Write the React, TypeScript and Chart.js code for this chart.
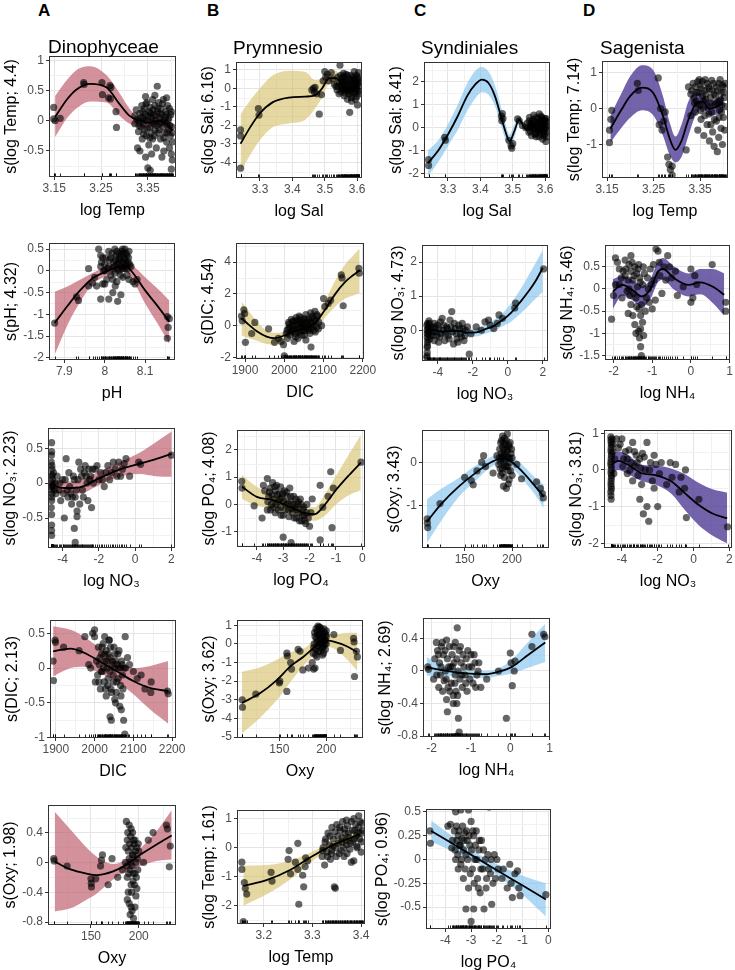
import { useEffect, useRef } from "react";
import { Chart, registerables } from "chart.js";

Chart.register(...registerables);

const FONT = "'Liberation Sans', Arial, 'DejaVu Sans', sans-serif";
Chart.defaults.font.family = FONT;

type Pt = [number, number];

// ---------------- Dinophyceae ----------------
const dinoTempPts: Pt[] = [
  [3.149, 0.22], [3.149, 0.03], [3.152, 0.0], [3.163, 0.04],
  [3.213, 0.63], [3.214, 0.6], [3.252, 0.63], [3.253, 0.43], [3.266, 0.38], [3.269, 0.58],
  [3.271, 0.55], [3.27, 0.36], [3.282, 0.15], [3.283, -0.11],
  [3.322, 0.08], [3.322, -0.05], [3.325, 0.18], [3.328, -0.45], [3.33, 0.0], [3.33, -0.18],
  [3.333, 0.12], [3.335, -0.1], [3.337, 0.25], [3.338, -0.3], [3.34, 0.05], [3.34, -0.05],
  [3.342, 0.2], [3.343, -0.15], [3.345, 0.1], [3.345, -0.6], [3.347, -0.25], [3.348, 0.3],
  [3.35, 0.0], [3.35, -0.78], [3.352, -0.4], [3.353, 0.15], [3.355, -0.1], [3.355, 0.22],
  [3.357, -0.2], [3.358, 0.05], [3.36, 0.35], [3.36, -0.3], [3.362, 0.1], [3.363, -0.05],
  [3.365, 0.25], [3.365, -0.15], [3.367, 0.0], [3.368, -0.45], [3.37, 0.57], [3.37, 0.15],
  [3.372, -0.2], [3.373, 0.3], [3.375, -0.05], [3.375, 0.05], [3.377, -0.3], [3.378, 0.2],
  [3.38, -0.6], [3.38, 0.1], [3.382, -0.1], [3.383, 0.35], [3.385, 0.0], [3.386, -0.2],
  [3.388, 0.15], [3.39, -0.05], [3.39, -0.35], [3.392, 0.25], [3.394, -0.15], [3.395, 0.05],
  [3.396, -0.45], [3.398, -0.25], [3.4, -0.55], [3.4, -0.8], [3.401, -0.1], [3.402, -0.65],
  [3.399, 0.1], [3.403, -0.35], [3.355, -0.82], [3.333, -0.5],
  [3.326, 0.02], [3.331, -0.08], [3.336, 0.05], [3.339, 0.15], [3.341, -0.22], [3.344, 0.0],
  [3.346, 0.28], [3.349, -0.12], [3.351, 0.08], [3.354, -0.28], [3.356, 0.12], [3.359, -0.02],
  [3.361, 0.18], [3.364, -0.25], [3.366, 0.08], [3.369, -0.08], [3.371, 0.2], [3.374, -0.15],
  [3.376, 0.12], [3.379, -0.02], [3.381, 0.28], [3.384, -0.28], [3.387, 0.05], [3.389, 0.1],
  [3.391, -0.2], [3.393, 0.0], [3.396, 0.2], [3.397, -0.08], [3.4, 0.15], [3.402, -0.2],
  [3.345, 0.4], [3.365, 0.42], [3.39, 0.38], [3.358, -0.55], [3.384, -0.5],
];
const dinoTempCx = [3.152, 3.178, 3.2, 3.227, 3.262, 3.29, 3.311, 3.332, 3.353, 3.374, 3.388, 3.403];
const dinoTempFit = [0.06, 0.36, 0.53, 0.61, 0.55, 0.27, 0.08, 0.0, -0.03, 0.0, -0.05, -0.16];
const dinoTempHi = [0.41, 0.68, 0.85, 0.9, 0.75, 0.45, 0.2, 0.06, 0.05, 0.07, 0.03, -0.06];
const dinoTempLo = [-0.27, 0.05, 0.22, 0.32, 0.3, 0.08, -0.05, -0.1, -0.11, -0.09, -0.13, -0.27];

const dinoPhPts: Pt[] = [
  [7.876, -1.2], [7.93, -0.6], [7.935, -0.68], [7.96, 0.05], [7.96, -0.35], [7.97, -0.28],
  [7.975, -0.15], [7.98, -0.35], [7.985, 0.5], [7.99, -0.65], [7.99, 0.1], [7.995, 0.3],
  [7.99, 0.35], [7.995, -0.3], [8.0, 0.15], [8.0, 0.0], [8.0, -0.3], [8.005, -0.2], [8.01, 0.45],
  [8.01, 0.1], [8.01, -0.65], [8.015, -0.1], [8.015, 0.3], [8.02, -0.5], [8.02, 0.05], [8.022, 0.2],
  [8.025, 0.5], [8.025, -0.05], [8.028, 0.35], [8.03, 0.15], [8.03, -0.25], [8.032, -0.7],
  [8.035, 0.4], [8.035, 0.0], [8.038, 0.25], [8.04, -0.55], [8.04, 0.1], [8.042, 0.45],
  [8.045, 0.2], [8.045, -0.15], [8.048, 0.3], [8.05, 0.5], [8.05, 0.05], [8.052, 0.15],
  [8.055, 0.35], [8.055, -0.1], [8.058, 0.2], [8.06, 0.45], [8.06, -0.2], [8.065, 0.1],
  [8.07, -0.25], [8.075, -0.3], [8.08, -0.2], [8.155, -1.05], [8.157, -1.3], [8.155, -1.55],
  [8.16, -1.1],
  [7.992, 0.2], [7.997, 0.0], [8.003, 0.3], [8.007, 0.05], [8.012, 0.25], [8.018, 0.4],
  [8.02, -0.2], [8.024, 0.1], [8.027, 0.25], [8.03, 0.45], [8.033, 0.05], [8.036, 0.3],
  [8.039, -0.1], [8.041, 0.35], [8.043, 0.05], [8.046, 0.4], [8.049, 0.1], [8.051, 0.25],
  [8.053, 0.4], [8.056, 0.05], [8.059, 0.3], [8.062, 0.15], [8.044, 0.5], [8.034, 0.2],
  [8.026, -0.35],
];
const dinoPhCx = [7.876, 7.91, 7.94, 7.97, 8.0, 8.03, 8.05, 8.07, 8.1, 8.13, 8.16];
const dinoPhFit = [-1.2, -0.78, -0.44, -0.17, -0.03, 0.08, 0.12, -0.05, -0.45, -0.8, -1.17];
const dinoPhHi = [-0.48, -0.35, -0.2, -0.05, 0.08, 0.22, 0.28, 0.12, -0.15, -0.4, -0.68];
const dinoPhLo = [-1.93, -1.2, -0.7, -0.3, -0.14, -0.05, -0.02, -0.22, -0.75, -1.2, -1.68];

const dinoNo3Pts: Pt[] = [
  [-4.6, 0.58], [-4.6, 0.45], [-4.62, 0.3], [-4.58, 0.2], [-4.6, 0.1], [-4.55, 0.05],
  [-4.6, -0.05], [-4.58, -0.15], [-4.6, -0.25], [-4.62, -0.35], [-4.6, -0.6], [-4.6, -0.68],
  [-4.6, -0.75], [-4.5, 0.15], [-4.45, -0.1], [-4.4, 0.0], [-4.2, -0.1], [-4.1, -0.25],
  [-4.0, 0.05], [-3.9, -0.5], [-3.8, 0.35], [-3.7, -0.2], [-3.6, -0.05], [-3.5, -0.3],
  [-3.4, 0.1], [-3.3, -0.2], [-3.2, -0.4], [-3.2, -0.48], [-3.3, -0.85], [-3.35, -0.65],
  [-3.1, 0.3], [-3.0, 0.2], [-2.9, -0.1], [-2.8, 0.15], [-2.7, 0.1], [-2.6, -0.25],
  [-2.5, 0.05], [-2.4, -0.35], [-2.3, 0.0], [-2.2, 0.2], [-2.0, 0.05], [-1.9, 0.15],
  [-1.7, -0.05], [-1.5, 0.25], [-1.3, 0.15], [-1.2, 0.3], [-1.0, 0.1], [-0.9, 0.3],
  [-0.7, 0.2], [-0.5, 0.35], [-0.3, 0.1], [0.2, 0.3], [0.3, 0.27], [2.0, 0.4],
  [-4.61, 0.4], [-4.59, 0.25], [-4.6, 0.0], [-4.61, -0.1], [-4.59, -0.2], [-4.6, -0.45],
  [-4.57, 0.12], [-4.55, -0.02], [-4.52, -0.05], [-4.35, -0.15], [-4.3, 0.1], [-4.15, 0.0],
  [-3.95, -0.15], [-3.85, 0.05], [-3.75, -0.1], [-3.65, 0.15], [-3.55, -0.15], [-3.45, -0.2],
  [-3.35, 0.05], [-3.25, -0.1], [-3.15, 0.05], [-3.05, -0.3], [-2.95, 0.1], [-2.85, -0.2],
  [-2.75, 0.25], [-2.65, 0.0], [-2.55, 0.2], [-2.45, 0.1], [-2.35, 0.2], [-2.1, 0.25],
  [-1.8, 0.05], [-1.6, 0.15], [-1.4, 0.05], [-1.1, 0.2], [-0.8, 0.1], [-0.6, 0.28],
];
const dinoNo3Cx = [-4.61, -4.2, -3.78, -3.05, -2.13, -1.02, 0.27, 1.1, 2.02];
const dinoNo3Fit = [-0.02, -0.06, -0.07, -0.06, 0.05, 0.18, 0.28, 0.34, 0.42];
const dinoNo3Hi = [0.07, 0.03, 0.02, 0.04, 0.15, 0.28, 0.44, 0.58, 0.74];
const dinoNo3Lo = [-0.12, -0.14, -0.15, -0.15, -0.05, 0.08, 0.13, 0.1, 0.09];

const dinoDicPts: Pt[] = [
  [1893, 0.1], [1894, -0.18], [1898, 0.4], [1899, 0.37], [1920, 0.3], [1960, 0.25],
  [1975, 0.45], [1985, 0.05], [1990, 0.0], [1995, 0.5], [2000, 0.55], [2000, 0.45],
  [2002, -0.2], [2005, 0.1], [2008, -0.1], [2010, 0.3], [2012, 0.05], [2015, -0.3],
  [2018, 0.2], [2020, -0.05], [2022, 0.35], [2025, -0.2], [2027, 0.1], [2030, -0.4],
  [2030, 0.25], [2033, 0.0], [2035, -0.15], [2037, 0.4], [2040, -0.7], [2040, 0.15],
  [2042, -0.3], [2043, -0.75], [2045, 0.05], [2048, -0.1], [2050, 0.3], [2052, -0.45],
  [2055, 0.1], [2057, -0.2], [2060, 0.2], [2062, 0.0], [2065, -0.55], [2067, -0.25],
  [2070, 0.1], [2072, -0.1], [2075, -0.75], [2078, -0.95], [2079, 0.45], [2080, 0.0],
  [2085, 0.15], [2090, 0.05], [2100, -0.05], [2110, -0.15], [2120, -0.1], [2130, -0.3],
  [2145, -0.35], [2146, -0.2], [2188, -0.33], [2190, -0.37],
  [2011, -0.2], [2014, 0.15], [2017, -0.05], [2019, 0.3], [2023, 0.0], [2026, 0.2],
  [2028, -0.3], [2031, 0.1], [2034, -0.25], [2036, 0.2], [2039, -0.05], [2041, 0.3],
  [2044, -0.35], [2046, 0.1], [2049, -0.2], [2051, 0.0], [2053, 0.2], [2056, -0.35],
  [2058, 0.05], [2061, -0.15], [2063, 0.25], [2066, 0.0], [2068, -0.4], [2071, 0.05],
  [2073, -0.3], [2076, 0.0], [2038, 0.4], [2026, 0.45], [2054, -0.5], [2069, -0.6],
];
const dinoDicCx = [1893, 1938, 1973, 2015, 2058, 2101, 2144, 2190];
const dinoDicFit = [0.24, 0.28, 0.22, 0.09, -0.05, -0.19, -0.29, -0.33];
const dinoDicHi = [0.6, 0.55, 0.45, 0.28, 0.1, 0.0, 0.03, 0.1];
const dinoDicLo = [-0.12, 0.0, 0.02, -0.08, -0.2, -0.38, -0.6, -0.8];

const dinoOxyPts: Pt[] = [
  [111, 0.05], [111.5, 0.02], [125, -0.05], [150, -0.22], [150.3, -0.28], [150.5, -0.33],
  [155, -0.22], [160, -0.05], [161, 0.03], [162, 0.1], [168, -0.3], [172, 0.05], [178, -0.2],
  [183, -0.1], [186, 0.0], [187, 0.55], [188, 0.3], [188, -0.2], [189, 0.15], [189, -0.4],
  [190, 0.5], [190, 0.05], [191, -0.1], [191, -0.7], [191.5, 0.35], [192, -0.3], [192, -0.6],
  [192.5, 0.2], [193, -0.05], [193, -0.65], [193.5, 0.4], [194, 0.1], [194, -0.25],
  [194.5, -0.75], [195, 0.25], [195, -0.85], [196, -0.15], [196, 0.3], [197, 0.0],
  [197, -0.45], [198, 0.2], [199, -0.1], [200, 0.15], [205, 0.0], [210, 0.3], [215, 0.4],
  [229, 0.5], [230, 0.45], [233, 0.22], [232, -0.06],
  [186.5, 0.2], [187.5, -0.05], [188.5, 0.4], [189.5, -0.15], [190.5, 0.25], [191.5, 0.0],
  [192.5, -0.4], [193.5, 0.1], [194.5, 0.3], [195.5, -0.3], [196.5, 0.15], [197.5, -0.2],
  [198.5, 0.05], [199.5, 0.25], [188, -0.5], [190, -0.55], [196, -0.6], [192, 0.45],
  [194, -0.15], [198, -0.35],
];
const dinoOxyCx = [112, 127.8, 145.3, 155.8, 173.2, 187.3, 201.2, 218.7, 234.5];
const dinoOxyFit = [0.01, -0.09, -0.15, -0.17, -0.12, -0.03, 0.1, 0.24, 0.36];
const dinoOxyHi = [0.68, 0.45, 0.2, 0.08, -0.02, 0.04, 0.18, 0.42, 0.7];
const dinoOxyLo = [-0.66, -0.62, -0.5, -0.42, -0.23, -0.12, -0.05, 0.02, 0.04];

// ---------------- Prymnesio ----------------
const prymSalPts: Pt[] = [
  [3.24, -2.25], [3.24, -2.58], [3.24, -4.32], [3.295, -1.1], [3.297, -1.45], [3.46, -0.1],
  [3.465, 0.0], [3.468, -0.2], [3.47, 0.05], [3.475, -0.3], [3.483, -1.4], [3.49, -0.35],
  [3.495, 0.4], [3.5, 0.9], [3.503, 0.6], [3.508, 0.75], [3.512, 0.4], [3.52, 0.85],
  [3.525, 0.5], [3.53, 0.2], [3.535, 0.1], [3.538, -0.1], [3.54, 0.6], [3.545, 0.3],
  [3.547, 1.25], [3.55, -0.2], [3.552, 0.5], [3.555, 0.0], [3.558, 0.8], [3.56, -0.4],
  [3.562, 0.2], [3.565, 0.4], [3.567, -0.1], [3.57, 0.7], [3.572, 0.1], [3.575, -0.3],
  [3.577, -1.3], [3.578, 0.3], [3.58, 0.5], [3.582, -0.5], [3.584, 0.0], [3.586, 0.6],
  [3.588, 0.2], [3.59, -0.2], [3.591, 0.9], [3.593, 0.4], [3.595, -0.6], [3.596, 0.1],
  [3.598, 0.7], [3.6, -0.1], [3.601, -0.9], [3.602, 0.3], [3.603, 0.5], [3.604, 0.85],
  [3.605, -0.3], [3.583, -0.7], [3.57, -0.6], [3.56, 0.65], [3.553, 0.35], [3.597, 0.0],
  [3.541, 0.1], [3.544, -0.3], [3.549, 0.7], [3.551, 0.15], [3.554, -0.1], [3.557, 0.55],
  [3.559, 0.0], [3.561, 0.35], [3.564, -0.25], [3.566, 0.75], [3.569, 0.25], [3.571, -0.15],
  [3.574, 0.45], [3.576, 0.0], [3.579, 0.15], [3.581, 0.7], [3.585, -0.35], [3.587, 0.4],
  [3.589, 0.0], [3.592, 0.55], [3.594, -0.25], [3.597, 0.3], [3.599, -0.45], [3.601, 0.6],
  [3.603, 0.1], [3.605, 0.4], [3.606, -0.15], [3.59, 0.25], [3.58, -0.1], [3.6, 0.2],
];
const prymSalCx = [3.24, 3.27, 3.3, 3.34, 3.39, 3.44, 3.47, 3.49, 3.515, 3.535, 3.555, 3.575, 3.59, 3.605];
const prymSalFit = [-3.0, -2.1, -1.35, -0.75, -0.5, -0.45, -0.38, -0.05, 0.55, 0.55, 0.1, -0.2, -0.05, 0.25];
const prymSalHi = [-1.4, -0.65, 0.0, 0.7, 0.95, 0.88, 0.45, 0.5, 0.85, 0.95, 0.35, 0.1, 0.2, 0.75];
const prymSalLo = [-4.5, -3.6, -2.8, -2.1, -1.9, -1.7, -1.1, -0.55, 0.25, 0.2, -0.2, -0.5, -0.3, -0.25];

const prymDicPts: Pt[] = [
  [1891, 0.6], [1893, 0.3], [1897, 1.0], [1899, 0.75], [1901, -1.05], [1917, -0.5],
  [1925, 0.2], [1960, -0.2], [1975, -1.05], [1985, -0.8], [1992, -1.0], [1998, -1.2],
  [2000, -1.9], [2003, -2.05], [2005, -0.5], [2008, -0.8], [2010, -0.2], [2012, 0.1],
  [2015, -0.6], [2018, 0.4], [2020, -0.3], [2022, 0.0], [2025, -1.0], [2025, 0.3],
  [2028, -0.5], [2030, 0.5], [2032, -0.2], [2035, 0.1], [2035, -0.8], [2038, 0.6],
  [2040, -0.4], [2042, 0.2], [2045, -0.1], [2045, -0.6], [2048, 0.4], [2050, 0.0],
  [2052, -0.3], [2055, 0.7], [2055, -0.9], [2058, 0.2], [2060, -0.2], [2062, 0.4],
  [2065, -0.5], [2067, 0.8], [2068, -1.35], [2070, 0.1], [2072, 0.5], [2075, -0.3],
  [2078, 0.9], [2080, 0.3], [2082, -0.1], [2085, 0.6], [2088, 0.2], [2095, 0.0],
  [2100, 1.7], [2103, 1.2], [2112, 1.4], [2118, 1.6], [2145, 3.2], [2147, 3.0],
  [2150, 1.25], [2190, 3.6], [2191, 3.3],
  [2007, -0.3], [2011, 0.2], [2014, -0.1], [2017, -0.4], [2021, 0.25], [2024, -0.2],
  [2027, 0.0], [2029, -0.7], [2031, 0.3], [2034, -0.4], [2037, 0.35], [2039, -0.1],
  [2041, 0.5], [2044, 0.1], [2046, -0.3], [2049, 0.2], [2051, -0.6], [2053, 0.45],
  [2056, -0.15], [2059, 0.3], [2061, 0.0], [2063, -0.3], [2066, 0.2], [2069, -0.2],
  [2071, 0.6], [2074, 0.0], [2076, 0.4], [2079, -0.4], [2083, 0.7], [2087, -0.2],
];
const prymDicCx = [1891, 1910, 1930, 1955, 1976, 2000, 2030, 2055, 2080, 2105, 2130, 2155, 2175, 2192];
const prymDicFit = [0.46, 0.05, -0.35, -0.69, -0.79, -0.62, -0.3, -0.17, 0.2, 1.05, 2.0, 2.75, 3.17, 3.48];
const prymDicHi = [1.5, 0.9, 0.25, -0.3, -0.45, -0.38, -0.05, 0.1, 0.5, 1.6, 2.85, 3.85, 4.4, 4.85];
const prymDicLo = [-0.6, -0.8, -0.95, -1.15, -1.2, -0.9, -0.55, -0.45, -0.12, 0.55, 1.2, 1.7, 1.9, 2.05];

const prymPo4Pts: Pt[] = [
  [-4.57, 0.85], [-4.56, 0.6], [-4.1, -0.05], [-3.8, -0.5], [-3.75, 0.7], [-3.7, 0.5],
  [-3.6, 0.95], [-3.6, -0.2], [-3.55, 0.3], [-3.5, 0.6], [-3.45, 0.0], [-3.4, 0.8],
  [-3.35, 0.2], [-3.3, 0.5], [-3.3, -0.3], [-3.25, 0.7], [-3.2, 0.1], [-3.15, 0.4],
  [-3.1, -0.1], [-3.1, 0.65], [-3.05, 0.25], [-3.0, -1.2], [-3.0, -0.4], [-2.95, 0.5],
  [-2.9, 0.0], [-2.85, 0.3], [-2.8, -0.2], [-2.75, 0.6], [-2.7, -1.4], [-2.7, 0.1],
  [-2.65, -0.3], [-2.6, 0.3], [-2.55, -0.1], [-2.5, -0.5], [-2.45, 0.0], [-2.4, -0.3],
  [-2.35, 0.2], [-2.3, -0.6], [-2.25, -0.2], [-2.2, -0.4], [-2.15, -0.7], [-2.1, 0.0],
  [-2.05, -0.5], [-2.0, -0.8], [-1.95, -0.3], [-1.9, 0.2], [-1.6, -1.3], [-1.6, 0.7],
  [-1.5, -0.1], [-1.3, 0.3], [-1.2, 1.2], [-1.15, -0.85], [-1.1, 0.6], [-0.05, 1.55],
  [-3.58, 0.1], [-3.52, 0.45], [-3.48, -0.2], [-3.42, 0.35], [-3.38, -0.1], [-3.32, 0.65],
  [-3.28, 0.0], [-3.22, 0.35], [-3.18, -0.2], [-3.12, 0.2], [-3.08, -0.4], [-3.02, 0.4],
  [-2.98, 0.1], [-2.92, -0.2], [-2.88, 0.45], [-2.82, 0.05], [-2.78, -0.45], [-2.72, 0.3],
  [-2.68, -0.15], [-2.62, 0.0], [-2.58, -0.5], [-2.52, 0.2], [-2.48, -0.2], [-2.42, 0.1],
  [-2.38, -0.6], [-2.32, 0.0], [-2.28, -0.4], [-2.22, -0.1], [-2.18, -0.6], [-2.12, -0.3],
];
const prymPo4Cx = [-4.56, -4.0, -3.38, -2.75, -2.13, -1.81, -1.44, -1.0, -0.5, -0.06];
const prymPo4Fit = [0.65, 0.28, 0.16, -0.09, -0.33, -0.36, -0.03, 0.53, 1.08, 1.53];
const prymPo4Hi = [1.08, 0.65, 0.4, 0.16, -0.08, -0.1, 0.35, 1.05, 1.85, 2.55];
const prymPo4Lo = [0.2, -0.05, -0.15, -0.32, -0.55, -0.6, -0.42, 0.0, 0.35, 0.53];

const prymOxyPts: Pt[] = [
  [110.5, -3.0], [110.8, -3.4], [125, -2.7], [150, -2.1], [150.5, -2.0], [158, -0.5],
  [158.5, -0.65], [158, -2.55], [162, -1.0], [163, -1.35], [170, -0.3], [172, -0.4],
  [175, -1.4], [181, -1.3], [185, -1.0], [186, -0.5], [186.5, -1.35], [188, -1.3],
  [187, 0.0], [188, 0.4], [189, -0.3], [189, 0.8], [190, 0.1], [190, -0.7], [191, 0.5],
  [191, -0.1], [192, 0.9], [192, 0.2], [193, -0.4], [193, 0.6], [194, 0.0], [194, 0.3],
  [195, -0.2], [195, 0.7], [196, 0.1], [196, -0.6], [197, 0.4], [197, -0.1], [198, 0.2],
  [198, 0.6], [199, -0.3], [200, 0.0], [200, 0.4], [208, 0.5], [215, -0.35], [229, 0.3],
  [229.5, 0.1], [230, -1.75], [232, -0.4], [233, -0.7],
  [186.5, -0.2], [187.5, 0.6], [188.5, -0.6], [189.5, 0.3], [190.5, 0.7], [191.5, -0.4],
  [192.5, 0.5], [193.5, 0.0], [194.5, 0.8], [195.5, 0.4], [196.5, -0.2], [197.5, 0.8],
  [198.5, 0.0], [199.5, 0.5], [191, 0.95], [193, 0.9], [195, 0.1], [197, -0.5], [199, 0.2],
  [200, 0.7],
];
const prymOxyCx = [110.3, 129.8, 147.6, 161.8, 176, 190.3, 197.3, 208, 222.3, 233];
const prymOxyFit = [-3.17, -2.64, -1.93, -1.21, -0.68, -0.05, 0.21, 0.12, -0.14, -0.45];
const prymOxyHi = [-1.5, -1.25, -0.85, -0.45, -0.25, 0.32, 0.55, 0.5, 0.6, 0.6];
const prymOxyLo = [-4.8, -3.95, -3.0, -2.05, -1.15, -0.45, -0.15, -0.25, -0.85, -1.45];

const prymTempPts: Pt[] = [
  [3.155, -0.5], [3.155, -0.75], [3.158, -2.55], [3.16, -1.2], [3.162, -1.4], [3.165, -1.6],
  [3.215, -0.85], [3.217, -1.15], [3.25, -0.4], [3.252, -0.1], [3.255, -0.9], [3.265, -0.5],
  [3.27, 0.15], [3.27, -0.75], [3.272, -1.95], [3.28, -0.95], [3.282, -1.35], [3.285, -0.65],
  [3.286, -0.35], [3.29, -0.45], [3.32, -0.3], [3.322, 0.0], [3.325, -0.6], [3.327, 0.3],
  [3.33, -0.15], [3.332, 0.5], [3.335, 0.1], [3.337, -0.4], [3.34, 0.7], [3.34, -0.1],
  [3.343, 0.3], [3.345, -1.35], [3.347, -1.4], [3.348, 0.0], [3.35, 0.8], [3.352, 0.4],
  [3.355, -0.2], [3.357, 0.6], [3.36, 0.2], [3.362, 0.9], [3.365, -0.3], [3.367, 0.5],
  [3.37, 0.1], [3.372, 0.75], [3.375, 0.35], [3.377, -0.05], [3.38, 0.9], [3.38, -0.5],
  [3.383, 0.2], [3.385, -0.45], [3.387, 0.6], [3.39, 0.4], [3.392, 0.0], [3.395, 1.1],
  [3.395, 0.7], [3.397, 0.3], [3.4, 0.5], [3.4, -0.15], [3.402, 0.85],
  [3.321, -0.1], [3.326, 0.2], [3.331, -0.3], [3.336, 0.4], [3.339, -0.2], [3.342, 0.05],
  [3.346, 0.55], [3.349, -0.3], [3.353, 0.15], [3.356, 0.7], [3.359, -0.1], [3.361, 0.35],
  [3.364, 0.0], [3.366, 0.65], [3.369, 0.25], [3.371, -0.2], [3.374, 0.5], [3.378, 0.15],
  [3.382, 0.6], [3.386, 0.3], [3.389, 0.8], [3.391, 0.05], [3.394, 0.5], [3.398, 0.9],
  [3.401, 0.2], [3.403, 0.6], [3.385, 1.0], [3.37, 0.95],
];
const prymTempCx = [3.158, 3.207, 3.254, 3.298, 3.342, 3.376, 3.397];
const prymTempFit = [-1.32, -1.11, -0.77, -0.31, 0.09, 0.32, 0.47];
const prymTempHi = [-0.62, -0.6, -0.45, -0.15, 0.22, 0.52, 0.72];
const prymTempLo = [-2.0, -1.6, -1.1, -0.48, -0.03, 0.15, 0.25];

// ---------------- Syndiniales ----------------
const syndSalPts: Pt[] = [
  [3.24, -1.4], [3.24, -1.65], [3.29, -0.42], [3.292, -0.55], [3.465, 0.5], [3.466, 0.3],
  [3.468, 0.62], [3.47, 0.4], [3.488, -0.55], [3.495, -0.8], [3.497, -0.9], [3.5, -0.7],
  [3.515, 0.38], [3.52, 0.3], [3.53, 0.1], [3.54, 0.0], [3.545, 0.2], [3.55, -0.2],
  [3.552, 0.45], [3.555, 0.1], [3.558, -0.35], [3.56, 0.3], [3.563, 0.0], [3.565, 0.55],
  [3.568, -0.1], [3.57, 0.25], [3.572, -0.4], [3.575, 0.1], [3.578, 0.4], [3.58, -0.2],
  [3.582, 0.6], [3.584, 0.0], [3.586, 0.3], [3.588, -0.3], [3.59, 0.15], [3.592, -0.5],
  [3.594, 0.35], [3.596, -0.1], [3.598, 0.2], [3.6, -0.25], [3.601, 0.05], [3.602, -0.6],
  [3.603, 0.4], [3.605, -0.15], [3.58, 0.2], [3.59, 0.45], [3.57, -0.25], [3.56, 0.15],
  [3.595, 0.0], [3.6, 0.3],
  [3.548, 0.0], [3.551, 0.3], [3.554, -0.15], [3.557, 0.2], [3.561, -0.05], [3.564, 0.35],
  [3.567, 0.1], [3.569, -0.3], [3.573, 0.45], [3.576, -0.05], [3.579, 0.25], [3.581, -0.4],
  [3.583, 0.1], [3.585, -0.15], [3.587, 0.5], [3.589, 0.0], [3.591, 0.3], [3.593, -0.2],
  [3.595, 0.15], [3.597, -0.35], [3.599, 0.4], [3.601, -0.05], [3.603, 0.1], [3.604, -0.4],
  [3.606, 0.25],
];
const syndSalCx = [3.238, 3.27, 3.3, 3.33, 3.36, 3.385, 3.405, 3.425, 3.445, 3.465, 3.48, 3.49, 3.505, 3.52, 3.54, 3.56, 3.58, 3.6];
const syndSalFit = [-1.55, -1.0, -0.3, 0.5, 1.4, 1.9, 2.1, 1.95, 1.38, 0.42, -0.28, -0.6, -0.15, 0.35, -0.05, 0.15, -0.15, 0.05];
const syndSalHi = [-1.0, -0.55, 0.15, 1.0, 1.95, 2.5, 2.65, 2.45, 1.85, 0.85, 0.05, -0.3, 0.15, 0.5, 0.05, 0.27, -0.03, 0.2];
const syndSalLo = [-2.12, -1.5, -0.8, -0.1, 0.75, 1.3, 1.55, 1.45, 0.95, 0.05, -0.65, -0.9, -0.45, 0.2, -0.15, 0.03, -0.28, -0.1];

const syndNo3Pts: Pt[] = [
  [-4.62, -0.8], [-4.6, -0.65], [-4.6, -0.5], [-4.58, -0.35], [-4.6, -0.2], [-4.55, -0.1],
  [-4.6, 0.0], [-4.52, 0.1], [-4.58, 0.2], [-4.5, 0.28], [-4.45, -0.25], [-4.4, 0.05],
  [-4.3, -0.15], [-4.2, 0.2], [-4.2, -0.3], [-4.1, -0.05], [-4.0, 0.15], [-3.95, -0.35],
  [-3.9, -0.2], [-3.85, 0.25], [-3.75, 0.35], [-3.7, 0.0], [-3.6, -0.3], [-3.5, 0.1],
  [-3.4, -0.15], [-3.3, 0.3], [-3.2, 0.55], [-3.1, -0.4], [-3.0, 0.05], [-2.9, -0.25],
  [-2.8, 0.15], [-2.7, -0.1], [-2.6, 0.2], [-2.5, -0.3], [-2.4, 0.0], [-2.3, 0.1],
  [-2.2, -0.7], [-2.1, -0.1], [-1.8, 0.1], [-1.5, 0.0], [-1.3, 0.25], [-1.1, 0.3],
  [-1.0, 0.15], [-0.8, 0.05], [-0.6, 0.2], [-0.5, 0.45], [-0.3, 0.35], [0.4, 0.65],
  [0.45, 0.8], [2.05, 1.8],
  [-4.61, -0.75], [-4.59, -0.45], [-4.57, -0.28], [-4.6, -0.1], [-4.56, 0.05], [-4.62, 0.15],
  [-4.54, -0.05], [-4.48, 0.2], [-4.42, -0.15], [-4.35, 0.1], [-4.25, -0.05], [-4.15, 0.1],
  [-4.05, -0.15], [-3.95, 0.05], [-3.8, -0.1], [-3.65, 0.15], [-3.55, -0.1], [-3.45, 0.05],
  [-3.35, -0.25], [-3.25, 0.1], [-3.15, -0.05], [-3.05, 0.2], [-2.95, -0.1], [-2.85, -0.35],
  [-2.75, 0.05], [-2.65, -0.2], [-2.55, 0.05], [-2.45, -0.15],
];
const syndNo3Cx = [-4.62, -4.2, -3.8, -3.3, -2.8, -2.3, -1.8, -1.3, -0.8, -0.3, 0.2, 0.7, 1.2, 1.6, 2.0];
const syndNo3Fit = [-0.05, 0.0, -0.04, -0.02, -0.02, -0.07, -0.06, 0.03, 0.13, 0.3, 0.52, 0.82, 1.15, 1.45, 1.83];
const syndNo3Hi = [0.1, 0.12, 0.08, 0.1, 0.09, 0.04, 0.06, 0.17, 0.3, 0.5, 0.8, 1.18, 1.62, 1.98, 2.35];
const syndNo3Lo = [-0.2, -0.12, -0.16, -0.14, -0.13, -0.18, -0.18, -0.1, -0.02, 0.12, 0.26, 0.48, 0.72, 0.93, 1.13];

const syndOxyPts: Pt[] = [
  [110.5, -1.3], [110.7, -1.4], [111, -1.5], [124, -0.95], [150, -0.35], [157, -0.42],
  [159, -0.52], [163, -0.2], [168, 0.0], [170, 0.15], [172, -0.1], [180, -0.25], [184, 0.15],
  [186, -0.05], [187, 0.3], [188, -0.3], [188, 0.45], [189, 0.1], [189, 0.5], [190, -0.15],
  [190, 0.35], [191, 0.0], [191, -0.55], [191, 0.45], [192, 0.2], [192, -0.35], [193, 0.4],
  [193, 0.05], [194, -0.1], [194, -0.6], [195, 0.65], [195, 0.25], [196, -0.2], [196, 0.1],
  [197, 0.35], [197, -0.4], [198, 0.0], [199, 0.2], [200, -0.3], [200, 0.1], [205, -0.05],
  [210, -0.38], [226, -0.45], [230, -0.6], [232, -0.72], [233, -0.82],
  [186.5, 0.1], [187.5, -0.15], [188.5, 0.2], [189.5, -0.25], [190.5, 0.15], [191.5, 0.3],
  [192.5, -0.1], [193.5, 0.15], [194.5, 0.3], [195.5, -0.1], [196.5, 0.4], [197.5, 0.1],
  [198.5, -0.2], [199.5, 0.3], [190, 0.6], [192, 0.55], [194, 0.5], [196, -0.5], [188, 0.0],
  [198, 0.45],
];
const syndOxyCx = [110.3, 126.1, 143.7, 161.3, 178.9, 189.5, 200, 210.6, 224.7, 233.4];
const syndOxyFit = [-1.36, -0.94, -0.56, -0.25, 0.01, 0.09, 0.0, -0.21, -0.56, -0.79];
const syndOxyHi = [-0.85, -0.6, -0.36, -0.08, 0.13, 0.2, 0.13, -0.05, -0.36, -0.52];
const syndOxyLo = [-1.85, -1.32, -0.8, -0.43, -0.1, -0.02, -0.13, -0.38, -0.76, -1.05];

const syndNh4Pts: Pt[] = [
  [-2.1, 0.05], [-2.08, 0.02], [-1.95, -0.1], [-1.88, 0.35], [-1.85, 0.25], [-1.82, -0.2],
  [-1.8, 0.1], [-1.78, -0.05], [-1.75, 0.3], [-1.72, -0.25], [-1.7, 0.2], [-1.68, -0.12],
  [-1.65, 0.0], [-1.62, -0.35], [-1.6, 0.15], [-1.6, -0.5], [-1.58, -0.2], [-1.55, 0.3],
  [-1.52, 0.05], [-1.5, -0.15], [-1.48, 0.2], [-1.45, -0.3], [-1.43, 0.1], [-1.4, -0.05],
  [-1.4, 0.35], [-1.38, -0.25], [-1.35, 0.53], [-1.35, -0.8], [-1.33, 0.0], [-1.32, -0.58],
  [-1.3, -0.75], [-1.3, 0.25], [-1.28, -0.1], [-1.25, 0.1], [-1.22, -0.2], [-1.2, 0.2],
  [-1.15, -0.05], [-1.12, 0.15], [-1.1, -0.25], [-1.05, 0.05], [-1.0, 0.2], [-0.95, -0.15],
  [-0.9, 0.1], [-0.85, -0.05], [-0.8, 0.1], [-0.75, -0.2], [-0.6, -0.1], [-0.3, 0.0],
  [-0.1, -0.58], [0.0, 0.22], [0.02, 0.1], [0.05, -0.18], [0.1, 0.0], [0.12, 0.12],
  [0.55, 0.45], [0.55, 0.3], [0.85, 0.45], [0.88, 0.42],
  [-1.92, 0.15], [-1.87, -0.05], [-1.83, 0.2], [-1.76, 0.05], [-1.73, 0.35], [-1.66, 0.25],
  [-1.63, -0.1], [-1.57, 0.05], [-1.54, -0.25], [-1.47, 0.05], [-1.44, 0.3], [-1.41, -0.15],
  [-1.36, 0.15], [-1.34, -0.3], [-1.27, 0.3], [-1.23, -0.05], [-1.18, 0.05], [-1.13, -0.15],
  [-1.08, 0.25], [-1.03, -0.1], [-0.98, 0.05], [-0.92, 0.2], [-0.88, -0.2], [-0.82, 0.0],
  [-1.62, 0.38], [-1.45, -0.4], [-1.36, -0.4],
];
const syndNh4Cx = [-2.13, -1.74, -1.15, -0.64, -0.3, 0.04, 0.46, 0.89];
const syndNh4Fit = [0.05, 0.01, -0.03, -0.04, -0.01, 0.05, 0.2, 0.35];
const syndNh4Hi = [0.17, 0.07, 0.01, 0.0, 0.03, 0.14, 0.36, 0.58];
const syndNh4Lo = [-0.06, -0.06, -0.08, -0.09, -0.06, -0.03, 0.04, 0.11];

const syndPo4Pts: Pt[] = [
  [-4.6, 0.3], [-4.58, 0.17], [-3.9, 0.35], [-3.8, 0.37], [-3.75, 0.12], [-3.7, 0.55],
  [-3.65, 0.3], [-3.6, 0.5], [-3.6, 0.0], [-3.55, 0.2], [-3.5, -0.1], [-3.5, 0.25],
  [-3.45, 0.15], [-3.4, 0.52], [-3.4, -0.05], [-3.35, 0.22], [-3.3, 0.1], [-3.3, -0.2],
  [-3.25, 0.28], [-3.2, 0.05], [-3.2, -0.52], [-3.15, 0.2], [-3.1, -0.3], [-3.1, 0.52],
  [-3.05, 0.15], [-3.0, 0.4], [-3.0, -0.65], [-2.95, -0.1], [-2.9, 0.25], [-2.9, -0.52],
  [-2.85, 0.0], [-2.8, 0.3], [-2.75, -0.2], [-2.7, 0.1], [-2.65, -0.35], [-2.6, 0.2],
  [-2.55, -0.1], [-2.5, -0.52], [-2.45, 0.0], [-2.4, -0.2], [-2.35, 0.05], [-2.3, 0.55],
  [-2.25, -0.15], [-2.2, -0.47], [-2.15, -0.25], [-2.1, 0.05], [-2.0, 0.0], [-1.95, -0.1],
  [-1.8, -0.2], [-1.6, -0.3], [-1.5, -0.05], [-1.45, -0.25], [-1.4, -0.4], [-1.3, -0.15],
  [-1.2, -0.12], [-1.15, -0.3], [-1.1, -0.38], [-0.1, -0.37],
  [-3.72, 0.2], [-3.62, 0.1], [-3.57, 0.35], [-3.52, 0.05], [-3.47, 0.3], [-3.42, 0.15],
  [-3.37, 0.0], [-3.33, 0.35], [-3.28, 0.2], [-3.23, -0.1], [-3.18, 0.3], [-3.13, 0.0],
  [-3.08, 0.25], [-3.03, -0.15], [-2.98, 0.1], [-2.93, 0.3], [-2.88, -0.25], [-2.83, 0.15],
  [-2.78, 0.0], [-2.72, -0.3], [-2.68, 0.2], [-2.62, -0.1], [-2.52, 0.1], [-2.42, -0.3],
  [-2.32, -0.1], [-2.22, 0.0], [-2.05, -0.2], [-1.75, -0.1],
];
const syndPo4Cx = [-4.55, -3.5, -2.8, -2.0, -1.0, -0.1];
const syndPo4Fit = [0.3, 0.13, 0.017, -0.113, -0.274, -0.42];
const syndPo4Hi = [0.41, 0.2, 0.07, -0.05, -0.17, -0.25];
const syndPo4Lo = [0.19, 0.06, -0.03, -0.17, -0.37, -0.6];

// ---------------- Sagenista ----------------
const sageTempPts: Pt[] = [
  [3.155, -0.6], [3.155, -0.95], [3.158, -0.3], [3.16, -0.05], [3.215, 0.7], [3.217, 0.5],
  [3.26, 0.85], [3.265, 0.0], [3.262, -0.45], [3.268, -0.6], [3.275, -0.1], [3.272, -0.35],
  [3.28, -1.35], [3.283, -1.55], [3.286, -1.7], [3.29, -1.85], [3.29, -1.6], [3.32, -1.15],
  [3.325, 0.6], [3.33, 0.4], [3.33, -0.2], [3.335, 0.7], [3.337, 0.3], [3.34, 0.6],
  [3.34, -0.1], [3.342, 0.2], [3.345, 0.75], [3.345, -0.6], [3.347, 0.45], [3.35, 0.1],
  [3.35, 0.65], [3.352, -0.3], [3.355, 0.35], [3.355, 0.75], [3.357, 0.0], [3.36, 0.5],
  [3.36, -0.2], [3.362, 0.25], [3.365, 0.7], [3.365, -0.45], [3.367, 0.05], [3.37, 0.55],
  [3.37, -0.9], [3.372, 0.3], [3.375, -0.1], [3.375, 0.78], [3.377, -0.65], [3.38, 0.4],
  [3.38, -1.05], [3.382, 0.1], [3.385, 0.6], [3.385, -0.35], [3.387, -1.2], [3.39, 0.2],
  [3.39, 0.7], [3.392, -0.05], [3.395, 0.45], [3.395, -0.55], [3.397, 0.1], [3.4, 0.6],
  [3.4, -0.25], [3.402, 0.3], [3.403, -0.6], [3.405, 0.05],
  [3.332, 0.5], [3.338, 0.15], [3.343, 0.45], [3.348, 0.8], [3.351, -0.05], [3.353, 0.55],
  [3.358, 0.2], [3.361, 0.8], [3.363, 0.4], [3.368, 0.6], [3.369, -0.15], [3.373, 0.15],
  [3.376, 0.5], [3.379, 0.7], [3.381, -0.3], [3.383, 0.35], [3.386, 0.15], [3.388, 0.5],
  [3.391, -0.25], [3.393, 0.8], [3.394, 0.25], [3.396, -0.1], [3.398, 0.65], [3.401, 0.45],
  [3.404, 0.7], [3.358, -0.75], [3.373, -0.45], [3.39, -0.8], [3.398, -1.0], [3.345, 0.1],
];
const sageTempCx = [3.157, 3.18, 3.2, 3.225, 3.25, 3.27, 3.285, 3.297, 3.31, 3.325, 3.34, 3.355, 3.37, 3.385, 3.4];
const sageTempFit = [-0.56, -0.05, 0.35, 0.58, 0.42, -0.2, -0.85, -1.15, -0.9, -0.3, 0.12, 0.2, 0.0, 0.05, 0.15];
const sageTempHi = [-0.2, 0.4, 0.9, 1.2, 1.05, 0.35, -0.4, -0.78, -0.45, 0.2, 0.45, 0.42, 0.2, 0.27, 0.38];
const sageTempLo = [-0.95, -0.55, -0.25, -0.05, -0.2, -0.75, -1.3, -1.5, -1.35, -0.75, -0.2, 0.0, -0.2, -0.17, -0.08];

const sageNh4Pts: Pt[] = [
  [-2.05, -0.68], [-2.0, -0.15], [-1.95, 0.1], [-1.95, 0.7], [-1.9, 0.6], [-1.85, 0.45],
  [-1.8, 0.25], [-1.78, -0.2], [-1.7, 0.65], [-1.7, 0.3], [-1.65, -0.05], [-1.6, 0.55],
  [-1.6, 0.0], [-1.55, -0.35], [-1.55, 0.4], [-1.55, 0.75], [-1.5, 0.2], [-1.5, -0.6],
  [-1.48, -0.1], [-1.45, 0.5], [-1.45, -0.8], [-1.4, 0.35], [-1.4, -0.4], [-1.38, 0.05],
  [-1.35, -0.95], [-1.35, 0.55], [-1.33, -1.1], [-1.32, 0.25], [-1.3, -0.6], [-1.3, -1.3],
  [-1.28, -1.5], [-1.25, 0.1], [-1.25, -0.75], [-1.22, -1.05], [-1.2, 0.35], [-1.15, -0.2],
  [-1.1, 0.0], [-1.05, 0.45], [-1.0, -0.45], [-0.95, 0.2], [-0.9, 0.9], [-0.85, 0.85],
  [-0.8, 0.3], [-0.75, -0.1], [-0.7, 0.5], [-0.6, 0.75], [-0.5, 0.25], [-0.4, 0.4],
  [-0.35, -0.15], [-0.2, 0.05], [0.0, -0.3], [0.0, 0.45], [0.05, -0.2], [0.1, 0.3],
  [0.15, 0.1], [0.55, 0.55], [0.9, -0.3], [0.9, -0.5],
  [-1.68, 0.45], [-1.62, 0.2], [-1.58, -0.15], [-1.52, 0.6], [-1.47, 0.3], [-1.42, -0.2],
  [-1.37, 0.45], [-1.34, -0.45], [-1.31, 0.15], [-1.27, -0.35], [-1.23, 0.5], [-1.18, -0.5],
  [-1.12, 0.25], [-1.08, -0.3], [-1.02, 0.1], [-0.97, 0.55], [-0.92, -0.25], [-0.82, 0.6],
  [-0.65, 0.2], [-0.55, 0.5], [-1.85, 0.1], [-1.75, 0.4], [-1.62, -0.55], [-1.42, -1.0],
  [-1.3, -0.9],
];
const sageNh4Cx = [-2.02, -1.77, -1.52, -1.27, -1.06, -0.85, -0.72, -0.43, -0.06, 0.24, 0.57, 0.86];
const sageNh4Fit = [-0.06, 0.09, -0.02, -0.17, -0.02, 0.39, 0.45, 0.24, 0.09, 0.15, 0.05, -0.13];
const sageNh4Hi = [0.22, 0.3, 0.2, 0.07, 0.2, 0.62, 0.7, 0.5, 0.35, 0.45, 0.45, 0.35];
const sageNh4Lo = [-0.45, -0.15, -0.25, -0.4, -0.25, 0.15, 0.2, -0.02, -0.17, -0.12, -0.32, -0.6];

const sageNo3Pts: Pt[] = [
  [-4.62, 0.9], [-4.6, 0.75], [-4.6, 0.6], [-4.58, 0.45], [-4.6, 0.3], [-4.62, 0.15],
  [-4.6, 0.0], [-4.58, -0.15], [-4.6, -0.3], [-4.6, -0.45], [-4.62, -0.6], [-4.6, -0.8],
  [-4.55, 0.85], [-4.5, 0.5], [-4.45, -0.1], [-4.3, 0.85], [-4.2, 0.6], [-4.0, 0.85],
  [-3.9, 0.3], [-3.8, 0.5], [-3.7, -0.1], [-3.6, 0.55], [-3.5, 0.2], [-3.4, 0.75],
  [-3.4, -0.3], [-3.3, 0.1], [-3.2, 0.4], [-3.1, -0.15], [-3.0, 0.3], [-3.0, -0.8],
  [-2.9, -0.4], [-2.85, 0.45], [-2.8, -1.2], [-2.7, 0.0], [-2.6, 0.75], [-2.6, -1.0],
  [-2.5, -1.4], [-2.4, 0.2], [-2.3, -0.3], [-2.2, 0.4], [-2.2, -0.5], [-2.0, -1.0],
  [-1.9, -0.1], [-1.5, -0.4], [-1.3, 0.2], [-1.0, 0.15], [-0.8, -0.6], [-0.5, -0.5],
  [-0.45, 0.0], [-0.4, -1.3], [0.3, -0.8], [1.9, -1.55],
  [-4.61, 0.82], [-4.59, 0.68], [-4.61, 0.52], [-4.59, 0.38], [-4.61, 0.22], [-4.59, 0.08],
  [-4.61, -0.08], [-4.59, -0.22], [-4.61, -0.38], [-4.59, -0.52], [-4.61, -0.7], [-4.5, 0.7],
  [-4.4, 0.3], [-4.1, 0.7], [-3.95, 0.1], [-3.7, 0.3], [-3.55, 0.0], [-3.3, 0.5],
  [-3.15, 0.2], [-2.95, 0.05], [-2.75, 0.35], [-2.45, 0.0], [-2.1, 0.15], [-1.8, 0.2],
  [-1.2, -0.2], [-0.7, -0.2],
];
const sageNo3Cx = [-4.58, -4.21, -3.65, -2.9, -2.15, -1.21, -0.47, 0.28, 1.03, 1.88];
const sageNo3Fit = [0.14, 0.25, 0.14, -0.09, -0.14, -0.32, -0.64, -0.95, -1.18, -1.32];
const sageNo3Hi = [0.41, 0.5, 0.41, 0.14, 0.12, 0.03, -0.12, -0.35, -0.52, -0.62];
const sageNo3Lo = [-0.14, 0.0, -0.12, -0.3, -0.4, -0.66, -1.1, -1.5, -1.78, -2.0];

// ---------------- column headings ----------------
const columnLetters = ["A", "B", "C", "D"];
const taxa = ["Dinophyceae", "Prymnesio", "Syndiniales", "Sagenista"];

// ---------------- page layout ----------------
const PAD_L = 62;
const PAD_T = 12;
const PAD_R = 16;
const PAD_B = 50;
const letterLeft = [38, 207, 414, 583];
const taxonLeft = [48, 233, 421, 600];
const taxonTop = [36.5, 37.5, 37.5, 37.5];

const BAND = {
  dino: "rgba(190, 95, 108, 0.68)",
  prym: "rgba(212, 190, 100, 0.6)",
  synd: "rgba(120, 190, 235, 0.6)",
  sage: "rgba(80, 60, 150, 0.8)",
};

interface Panel {
  key: string;
  box: [number, number, number, number];
  xRange: [number, number];
  yRange: [number, number];
  xTicks: number[];
  yTicks: number[];
  xTitle: string;
  yTitle: string;
  band: string;
  pts: Pt[];
  cx: number[];
  fit: number[];
  hi: number[];
  lo: number[];
}

const panels: Panel[] = [
  { key: "A1", box: [49, 56, 127, 121], xRange: [3.139, 3.41], yRange: [-0.93, 1.07], xTicks: [3.15, 3.25, 3.35], yTicks: [-0.5, 0, 0.5, 1], xTitle: "log Temp", yTitle: "s(log Temp; 4.4)", band: BAND.dino, pts: dinoTempPts, cx: dinoTempCx, fit: dinoTempFit, hi: dinoTempHi, lo: dinoTempLo },
  { key: "B1", box: [236, 62, 126, 116], xRange: [3.226, 3.615], yRange: [-4.85, 1.42], xTicks: [3.3, 3.4, 3.5, 3.6], yTicks: [-4, -3, -2, -1, 0, 1], xTitle: "log Sal", yTitle: "s(log Sal; 6.16)", band: BAND.prym, pts: prymSalPts, cx: prymSalCx, fit: prymSalFit, hi: prymSalHi, lo: prymSalLo },
  { key: "C1", box: [424, 62, 126, 116], xRange: [3.226, 3.615], yRange: [-2.2, 2.87], xTicks: [3.3, 3.4, 3.5, 3.6], yTicks: [-2, -1, 0, 1, 2], xTitle: "log Sal", yTitle: "s(log Sal; 8.41)", band: BAND.synd, pts: syndSalPts, cx: syndSalCx, fit: syndSalFit, hi: syndSalHi, lo: syndSalLo },
  { key: "D1", box: [602, 61, 126, 117], xRange: [3.139, 3.41], yRange: [-1.93, 1.32], xTicks: [3.15, 3.25, 3.35], yTicks: [-1, 0, 1], xTitle: "log Temp", yTitle: "s(log Temp; 7.14)", band: BAND.sage, pts: sageTempPts, cx: sageTempCx, fit: sageTempFit, hi: sageTempHi, lo: sageTempLo },

  { key: "A2", box: [49, 243, 126, 117], xRange: [7.862, 8.174], yRange: [-2.05, 0.64], xTicks: [7.9, 8, 8.1], yTicks: [-2, -1.5, -1, -0.5, 0, 0.5], xTitle: "pH", yTitle: "s(pH; 4.32)", band: BAND.dino, pts: dinoPhPts, cx: dinoPhCx, fit: dinoPhFit, hi: dinoPhHi, lo: dinoPhLo },
  { key: "B2", box: [236, 243, 128, 116], xRange: [1877, 2203], yRange: [-2.1, 5.2], xTicks: [1900, 2000, 2100, 2200], yTicks: [-2, 0, 2, 4], xTitle: "DIC", yTitle: "s(DIC; 4.54)", band: BAND.prym, pts: prymDicPts, cx: prymDicCx, fit: prymDicFit, hi: prymDicHi, lo: prymDicLo },
  { key: "C2", box: [422, 245, 126, 116], xRange: [-4.9, 2.3], yRange: [-0.9, 2.5], xTicks: [-4, -2, 0, 2], yTicks: [0, 1, 2], xTitle: "log NO₃", yTitle: "s(log NO₃; 4.73)", band: BAND.synd, pts: syndNo3Pts, cx: syndNo3Cx, fit: syndNo3Fit, hi: syndNo3Hi, lo: syndNo3Lo },
  { key: "D2", box: [605, 245, 125, 115], xRange: [-2.22, 1.01], yRange: [-1.6, 0.99], xTicks: [-2, -1, 0, 1], yTicks: [-1.5, -1, -0.5, 0, 0.5], xTitle: "log NH₄", yTitle: "s(log NH₄; 5.46)", band: BAND.sage, pts: sageNh4Pts, cx: sageNh4Cx, fit: sageNh4Fit, hi: sageNh4Hi, lo: sageNh4Lo },

  { key: "A3", box: [48, 428, 127, 120], xRange: [-4.8, 2.2], yRange: [-0.93, 0.79], xTicks: [-4, -2, 0, 2], yTicks: [-0.5, 0, 0.5], xTitle: "log NO₃", yTitle: "s(log NO₃; 2.23)", band: BAND.dino, pts: dinoNo3Pts, cx: dinoNo3Cx, fit: dinoNo3Fit, hi: dinoNo3Hi, lo: dinoNo3Lo },
  { key: "B3", box: [237, 430, 128, 117], xRange: [-4.75, 0.1], yRange: [-1.56, 2.73], xTicks: [-4, -3, -2, -1, 0], yTicks: [-1, 0, 1, 2], xTitle: "log PO₄", yTitle: "s(log PO₄; 4.08)", band: BAND.prym, pts: prymPo4Pts, cx: prymPo4Cx, fit: prymPo4Fit, hi: prymPo4Hi, lo: prymPo4Lo },
  { key: "C3", box: [422, 430, 127, 118], xRange: [105, 239], yRange: [-1.97, 0.74], xTicks: [150, 200], yTicks: [-1, 0], xTitle: "Oxy", yTitle: "s(Oxy; 3.43)", band: BAND.synd, pts: syndOxyPts, cx: syndOxyCx, fit: syndOxyFit, hi: syndOxyHi, lo: syndOxyLo },
  { key: "D3", box: [604, 430, 128, 118], xRange: [-5.0, 2.15], yRange: [-2.13, 1.09], xTicks: [-4, -2, 0, 2], yTicks: [-2, -1, 0, 1], xTitle: "log NO₃", yTitle: "s(log NO₃; 3.81)", band: BAND.sage, pts: sageNo3Pts, cx: sageNo3Cx, fit: sageNo3Fit, hi: sageNo3Hi, lo: sageNo3Lo },

  { key: "A4", box: [50, 620, 126, 118], xRange: [1885, 2210], yRange: [-1.005, 0.69], xTicks: [1900, 2000, 2100, 2200], yTicks: [-1, -0.5, 0, 0.5], xTitle: "DIC", yTitle: "s(DIC; 2.13)", band: BAND.dino, pts: dinoDicPts, cx: dinoDicCx, fit: dinoDicFit, hi: dinoDicHi, lo: dinoDicLo },
  { key: "B4", box: [237, 620, 126, 118], xRange: [105, 239], yRange: [-5.05, 1.28], xTicks: [150, 200], yTicks: [-5, -4, -3, -2, -1, 0, 1], xTitle: "Oxy", yTitle: "s(Oxy; 3.62)", band: BAND.prym, pts: prymOxyPts, cx: prymOxyCx, fit: prymOxyFit, hi: prymOxyHi, lo: prymOxyLo },
  { key: "C4", box: [423, 618, 127, 119], xRange: [-2.22, 1.01], yRange: [-0.81, 0.65], xTicks: [-2, -1, 0, 1], yTicks: [-0.8, -0.4, 0, 0.4], xTitle: "log NH₄", yTitle: "s(log NH₄; 2.69)", band: BAND.synd, pts: syndNh4Pts, cx: syndNh4Cx, fit: syndNh4Fit, hi: syndNh4Hi, lo: syndNh4Lo },

  { key: "A5", box: [48, 805, 128, 120], xRange: [105, 239], yRange: [-0.84, 0.77], xTicks: [150, 200], yTicks: [-0.8, -0.4, 0, 0.4], xTitle: "Oxy", yTitle: "s(Oxy; 1.98)", band: BAND.dino, pts: dinoOxyPts, cx: dinoOxyCx, fit: dinoOxyFit, hi: dinoOxyHi, lo: dinoOxyLo },
  { key: "B5", box: [237, 810, 128, 114], xRange: [3.145, 3.408], yRange: [-2.63, 1.3], xTicks: [3.2, 3.3, 3.4], yTicks: [-2, -1, 0, 1], xTitle: "log Temp", yTitle: "s(log Temp; 1.61)", band: BAND.prym, pts: prymTempPts, cx: prymTempCx, fit: prymTempFit, hi: prymTempHi, lo: prymTempLo },
  { key: "C5", box: [426, 809, 125, 120], xRange: [-4.75, 0.1], yRange: [-0.73, 0.53], xTicks: [-4, -3, -2, -1, 0], yTicks: [-0.5, -0.25, 0, 0.25, 0.5], xTitle: "log PO₄", yTitle: "s(log PO₄; 0.96)", band: BAND.synd, pts: syndPo4Pts, cx: syndPo4Cx, fit: syndPo4Fit, hi: syndPo4Hi, lo: syndPo4Lo },
];

// Minor grid breaks sit halfway between the major breaks, as in ggplot.
function minorBreaks(major: number[], min: number, max: number): number[] {
  if (major.length < 2) return [];
  const step = major[1] - major[0];
  const out = [major[0] - step / 2];
  for (let i = 1; i < major.length; i++) out.push((major[i - 1] + major[i]) / 2);
  out.push(major[major.length - 1] + step / 2);
  return out.filter((v) => v > min && v < max);
}

// Minor grid, rug, panel frame and axis titles for one panel.
function panelDecor(p: Panel) {
  return {
    id: "panelDecor",
    beforeDatasetsDraw(chart: any) {
      const { ctx, chartArea: a } = chart;
      const xs = chart.scales.x;
      const ys = chart.scales.y;
      ctx.save();
      ctx.strokeStyle = "#f1f1f1";
      ctx.lineWidth = 1;
      ctx.beginPath();
      for (const v of minorBreaks(p.xTicks, p.xRange[0], p.xRange[1])) {
        const x = Math.round(xs.getPixelForValue(v)) + 0.5;
        ctx.moveTo(x, a.top);
        ctx.lineTo(x, a.bottom);
      }
      for (const v of minorBreaks(p.yTicks, p.yRange[0], p.yRange[1])) {
        const y = Math.round(ys.getPixelForValue(v)) + 0.5;
        ctx.moveTo(a.left, y);
        ctx.lineTo(a.right, y);
      }
      ctx.stroke();
      ctx.restore();
    },
    afterDatasetsDraw(chart: any) {
      const { ctx, chartArea: a } = chart;
      const xs = chart.scales.x;
      ctx.save();
      // rug of observed x values
      ctx.strokeStyle = "rgba(0,0,0,0.85)";
      ctx.lineWidth = 1;
      ctx.beginPath();
      for (const [x] of p.pts) {
        const px = Math.round(xs.getPixelForValue(x)) + 0.5;
        ctx.moveTo(px, a.bottom);
        ctx.lineTo(px, a.bottom - 3.5);
      }
      ctx.stroke();
      // panel frame
      ctx.strokeStyle = "#333333";
      ctx.lineWidth = 1;
      ctx.strokeRect(a.left + 0.5, a.top + 0.5, a.right - a.left - 1, a.bottom - a.top - 1);
      // x title
      ctx.fillStyle = "#000";
      ctx.font = `16px ${FONT}`;
      ctx.textAlign = "center";
      ctx.textBaseline = "alphabetic";
      ctx.fillText(p.xTitle, (a.left + a.right) / 2, a.bottom + 37.5);
      // y title, placed just left of the widest tick label
      ctx.font = `12px ${FONT}`;
      const maxW = Math.max(...p.yTicks.map((v) => ctx.measureText(String(v)).width));
      const cx = a.left - 5 - maxW - 11.5;
      ctx.font = `16px ${FONT}`;
      ctx.translate(cx, (a.top + a.bottom) / 2);
      ctx.rotate(-Math.PI / 2);
      ctx.textBaseline = "middle";
      ctx.fillText(p.yTitle, 0, 0);
      ctx.restore();
    },
  };
}

function chartConfig(p: Panel): any {
  const tickFont = { size: 12, family: FONT };
  const grid = { color: "#e4e4e4", lineWidth: 1, tickLength: 3, tickColor: "#333333", tickWidth: 1 };
  const label = (v: number) => String(v);
  return {
    type: "line",
    data: {
      datasets: [
        {
          data: p.cx.map((x, i) => ({ x, y: p.fit[i] })),
          borderColor: "#000",
          borderWidth: 1.8,
          pointRadius: 0,
          cubicInterpolationMode: "monotone",
          fill: false,
          order: 0,
        },
        {
          data: p.pts.map(([x, y]) => ({ x, y })),
          showLine: false,
          pointRadius: 3.6,
          pointBackgroundColor: "rgba(0,0,0,0.6)",
          pointBorderWidth: 0,
          pointBorderColor: "rgba(0,0,0,0)",
          order: 1,
        },
        {
          data: p.cx.map((x, i) => ({ x, y: p.hi[i] })),
          borderColor: "rgba(0,0,0,0)",
          borderWidth: 1,
          pointRadius: 0,
          cubicInterpolationMode: "monotone",
          fill: false,
          order: 2,
        },
        {
          data: p.cx.map((x, i) => ({ x, y: p.lo[i] })),
          borderColor: "rgba(0,0,0,0)",
          borderWidth: 1,
          pointRadius: 0,
          cubicInterpolationMode: "monotone",
          fill: "-1",
          backgroundColor: p.band,
          order: 2,
        },
      ],
    },
    options: {
      animation: false,
      responsive: false,
      events: [],
      layout: { padding: { left: 0, top: PAD_T, right: PAD_R, bottom: 0 } },
      plugins: { legend: { display: false }, tooltip: { enabled: false }, title: { display: false } },
      scales: {
        x: {
          type: "linear",
          min: p.xRange[0],
          max: p.xRange[1],
          border: { display: false },
          grid,
          afterBuildTicks: (s: any) => {
            s.ticks = p.xTicks.map((v) => ({ value: v }));
          },
          afterFit: (s: any) => {
            s.height = PAD_B;
          },
          ticks: { autoSkip: false, maxRotation: 0, minRotation: 0, padding: 1, color: "#4d4d4d", font: tickFont, callback: label },
        },
        y: {
          type: "linear",
          min: p.yRange[0],
          max: p.yRange[1],
          border: { display: false },
          grid,
          afterBuildTicks: (s: any) => {
            s.ticks = p.yTicks.map((v) => ({ value: v }));
          },
          afterFit: (s: any) => {
            s.width = PAD_L;
          },
          ticks: { autoSkip: false, padding: 2, color: "#4d4d4d", font: tickFont, callback: label },
        },
      },
    },
    plugins: [panelDecor(p)],
  };
}

function PanelChart({ panel }: { panel: Panel }) {
  const ref = useRef<HTMLCanvasElement | null>(null);
  useEffect(() => {
    if (!ref.current) return;
    const chart = new Chart(ref.current, chartConfig(panel));
    return () => chart.destroy();
  }, [panel]);
  const [l, t, w, h] = panel.box;
  const cw = PAD_L + w + PAD_R;
  const ch = PAD_T + h + PAD_B;
  return (
    <canvas
      ref={ref}
      width={cw}
      height={ch}
      style={{ position: "absolute", left: l - PAD_L, top: t - PAD_T, width: cw, height: ch }}
    />
  );
}

export default function App() {
  return (
    <div
      style={{
        position: "absolute",
        left: 0,
        top: 0,
        width: 735,
        height: 970,
        background: "#fff",
        overflow: "hidden",
        fontFamily: FONT,
      }}
    >
      {panels.map((p) => (
        <PanelChart key={p.key} panel={p} />
      ))}
      {columnLetters.map((c, i) => (
        <div
          key={c}
          style={{ position: "absolute", left: letterLeft[i], top: 1.5, fontSize: 17, lineHeight: "17px", fontWeight: 700, color: "#000" }}
        >
          {c}
        </div>
      ))}
      {taxa.map((name, i) => (
        <div
          key={name}
          style={{ position: "absolute", left: taxonLeft[i], top: taxonTop[i], fontSize: 19, lineHeight: "19px", color: "#000", whiteSpace: "nowrap" }}
        >
          {name}
        </div>
      ))}
    </div>
  );
}
